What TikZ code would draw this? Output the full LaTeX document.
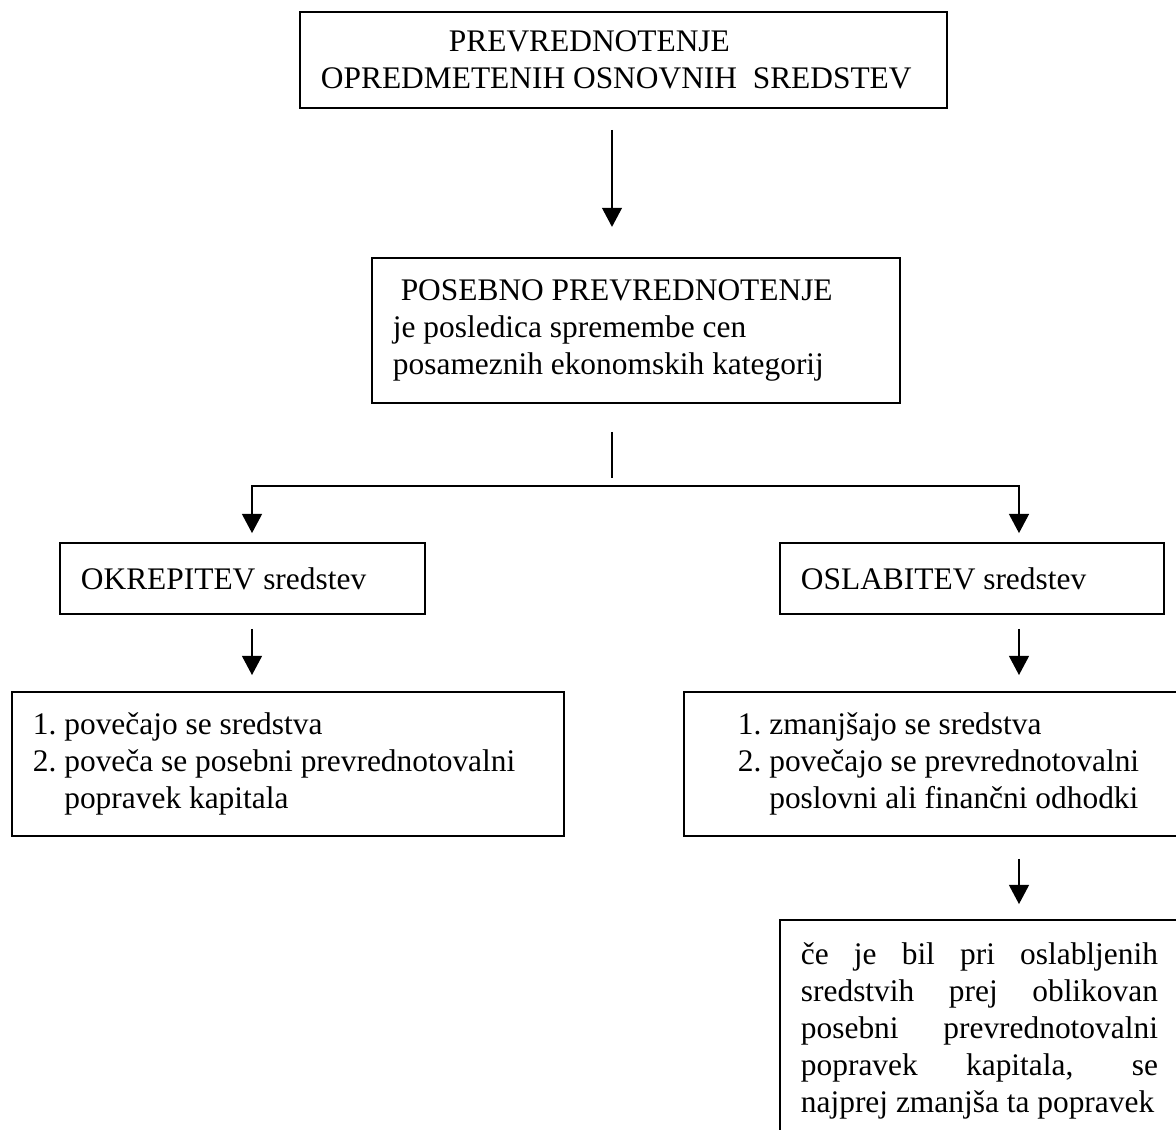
\documentclass[tikz,border=0pt]{standalone}
\usepackage{fontspec}
\setmainfont{Liberation Serif}
\usetikzlibrary{arrows.meta}

\newcommand{\spreadline}[1]{\makebox[136.4pt][s]{#1}}

\tikzset{
  box/.style={draw, line width=0.75pt, anchor=north west, align=left,
    inner xsep=8pt, inner ysep=0pt, font=\fontsize{12}{14.1}\selectfont,
    execute at begin node={\spaceskip=0pt\xspaceskip=0pt\relax}},
  arr/.style={line width=0.6pt, -{Triangle[length=7.3pt, width=7.6pt]}},
}

\begin{document}
\begin{tikzpicture}[x=0.382pt, y=-0.382pt]
  \useasboundingbox (0,0) rectangle (1176,1130);
  \clip (0,0) rectangle (1176,1130);
  % Boxes
  \node[box, text width=231.2pt, minimum height=36.7pt] (top) at (299,11)
    {\hspace*{48.9pt}PREVREDNOTENJE\\OPREDMETENIH OSNOVNIH\ \ SREDSTEV};
  \node[box, text width=185.7pt, minimum height=55.4pt] (special) at (371,257)
    {\hspace*{3pt}POSEBNO PREVREDNOTENJE\\je posledica spremembe cen\\posameznih ekonomskih kategorij};
  \node[box, text width=123.5pt, minimum height=27.1pt] (okrep) at (59,542) {OKREPITEV sredstev};
  \node[box, text width=130.7pt, minimum height=27.1pt] (oslab) at (779,542) {OSLABITEV sredstev};
  \node[box, text width=194.9pt, minimum height=55pt] (uplist) at (11,691)
    {1.~povečajo se sredstva\\2.~poveča se posebni prevrednotovalni\\\hspace*{12pt}popravek kapitala};
  \node[box, inner xsep=20.6pt, text width=165pt, minimum height=55pt] (downlist) at (683,691)
    {1.~zmanjšajo se sredstva\\2.~povečajo se prevrednotovalni\\\hspace*{12pt}poslovni ali finančni odhodki};
  \node[box, inner ysep=8.8pt, text width=140pt] (note) at (779,919)
    {\spreadline{če je bil pri oslabljenih}\\\spreadline{sredstvih prej oblikovan}\\
     \spreadline{posebni prevrednotovalni}\\\spreadline{popravek kapitala, se}\\
     najprej zmanjša ta popravek};
  % Connectors
  \coordinate (spine) at (612,0);
  \coordinate (split) at (612,486);
  \coordinate (leftcol) at (252,0);
  \coordinate (rightcol) at (1019,0);
  \draw[arr, shorten <=8pt, shorten >=11.5pt] (top.south -| spine) -- (special.north -| spine);
  \draw[line width=0.6pt, shorten <=10.7pt, shorten >=3.1pt] (special.south -| spine) -- (split);
  \draw[arr, shorten >=3.4pt] (split) -| (okrep.north -| leftcol);
  \draw[arr, shorten >=3.4pt] (split) -| (oslab.north -| rightcol);
  \draw[arr, shorten <=5.3pt, shorten >=6.1pt] (okrep.south -| leftcol) -- (uplist.north -| leftcol);
  \draw[arr, shorten <=5.3pt, shorten >=6.1pt] (oslab.south -| rightcol) -- (downlist.north -| rightcol);
  \draw[arr, shorten <=8.4pt, shorten >=5.7pt] (downlist.south -| rightcol) -- (note.north -| rightcol);
\end{tikzpicture}
\end{document}
